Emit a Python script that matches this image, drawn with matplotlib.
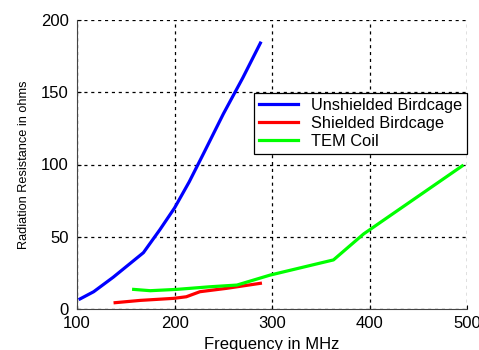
import matplotlib
matplotlib.use('Agg')
import matplotlib.pyplot as plt

plt.rcParams['font.family'] = ['Liberation Sans', 'DejaVu Sans']

# data
unshielded_f = [103, 117, 137, 168, 185, 200, 215, 230, 250, 270, 288]
unshielded_r = [7, 12, 22, 39, 55, 70, 88, 108, 135, 160, 184]

shielded_f = [139, 165, 199, 212, 226, 253, 288]
shielded_r = [4.4, 6, 7.4, 8.5, 12, 14.3, 17.8]

tem_f = [158, 175, 202, 236, 264, 298, 363, 394, 495]
tem_r = [13.6, 12.7, 13.6, 15.4, 16.6, 23.5, 34, 52, 99]

fig = plt.figure(figsize=(4.79, 3.5), dpi=100)
ax = fig.add_axes([0.161, 0.117, 0.814, 0.826])
ax.plot(unshielded_f, unshielded_r, color='#0000ff', linewidth=2.3, label='Unshielded Birdcage')
ax.plot(shielded_f, shielded_r, color='#ff0000', linewidth=2.3, label='Shielded Birdcage')
ax.plot(tem_f, tem_r, color='#00ff00', linewidth=2.3, label='TEM Coil')

ax.set_xlim([100, 500])
ax.set_ylim([0, 200])
ax.set_xticks([100, 200, 300, 400, 500])
ax.set_yticks([0, 50, 100, 150, 200])
ax.grid(True, color='k', linestyle=(0, (2.5, 3)), linewidth=0.9)
ax.spines['top'].set_visible(False)
ax.spines['right'].set_visible(False)
ax.spines['left'].set_color('#444444')
ax.spines['bottom'].set_color('#444444')
ax.tick_params(direction='in', length=3, labelsize=12)
ax.tick_params(axis='x', pad=5)
ax.tick_params(axis='y', pad=6)

ax.set_xlabel('Frequency in MHz', fontsize=12, labelpad=4)
ax.set_ylabel('Radiation Resistance in ohms', fontsize=9.2, labelpad=8)

leg = ax.legend(loc='upper right', bbox_to_anchor=(1.0, 0.748), fontsize=11.8,
                fancybox=False, framealpha=1, edgecolor='k', borderaxespad=0,
                handlelength=2.4, handletextpad=0.8, labelspacing=0.18, borderpad=0.3)
leg.get_frame().set_linewidth(0.9)

fig.savefig('out.png')
